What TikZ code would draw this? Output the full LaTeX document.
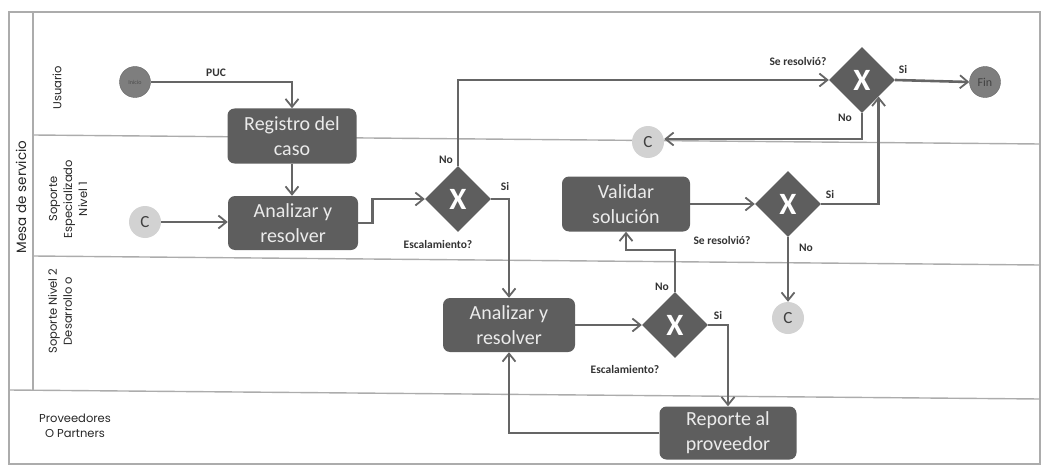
\documentclass[tikz,border=0pt]{standalone}
\usepackage{fontspec}
\setmainfont{Carlito}
\newfontfamily\lanefont{Poppins}
\usetikzlibrary{arrows.meta,shapes.geometric}
\definecolor{boxgray}{HTML}{5E5E5E}
\definecolor{linegray}{HTML}{656565}
\definecolor{lanegray}{HTML}{ACACAC}
\definecolor{evgray}{HTML}{7E7E7E}
\definecolor{cgray}{HTML}{D2D2D2}
\begin{document}
\begin{tikzpicture}[x=1pt,y=-1pt,
  lane/.style={draw=lanegray, line width=1.4pt},
  task/.style={rounded corners=7pt, fill=boxgray, text=white!92!black, align=center,
    font=\fontsize{20}{25}\selectfont, minimum width=129pt, minimum height=55pt, inner sep=2pt},
  gw/.style={diamond, aspect=1, fill=boxgray, text=white, inner sep=0pt,
    minimum width=66pt, minimum height=66pt, font=\fontsize{31}{31}\selectfont\bfseries},
  evc/.style={circle, fill=evgray, draw=evgray!80!black, line width=0.4pt, minimum size=31pt, inner sep=0pt},
  cc/.style={circle, fill=cgray, text=black!75, minimum size=32pt, inner sep=0pt,
    font=\fontsize{17}{17}\selectfont},
  arr/.style={draw=linegray, line width=2.6pt, -{Straight Barb[length=8pt,width=13pt,line width=1.8pt]}},
  lbl/.style={font=\fontsize{11.5}{12}\selectfont\bfseries, text=black!80, inner sep=1pt},
  lanelbl/.style={font=\lanefont\fontsize{11.5}{15}\selectfont, text=black!85, align=center, inner sep=0pt}
]
\useasboundingbox (0,0) rectangle (1043,468);
% frame and lanes
\draw[lane] (9,12) rectangle (1040,464);
\draw[lane] (33,12) -- (33,390);
\draw[lane] (33,135) -- (1040,144);
\draw[lane] (33,256) -- (1040,265);
\draw[lane] (9,390) -- (1040,399);
\node[lanelbl, rotate=90, font=\lanefont\fontsize{13.5}{14}\selectfont] (mesa) at (21,197) {Mesa de servicio};
\node[lanelbl, rotate=90] (lu) at (57,88) {Usuario};
\node[lanelbl, rotate=90] (l1) at (68,199) {Soporte\\Especializado\\Nivel 1};
\node[lanelbl, rotate=90] (l2) at (60,311) {Soporte Nivel 2\\Desarrollo o};
\node[lanelbl] (lp) at (75,426) {Proveedores\\O Partners};
% nodes
\node[evc, font=\fontsize{6}{6}\selectfont, text=black!70] (ini) at (135,82) {Inicio};
\node[task] (reg) at (292,136) {Registro del\\caso};
\node[task, minimum width=130pt, minimum height=54pt] (an1) at (293,223) {Analizar y\\resolver};
\node[cc] (c1) at (145,222) {C};
\node[gw] (g1) at (458,199) {X};
\node[gw] (g3) at (862,80) {X};
\node[evc, font=\fontsize{12}{12}\selectfont, text=black!75] (fin) at (985,82) {Fin};
\node[cc] (c2) at (648,142) {C};
\node[task, minimum width=128pt] (val) at (626,204) {Validar\\solución};
\node[gw] (g4) at (788,204) {X};
\node[cc] (c3) at (788,318) {C};
\node[task, minimum width=132pt, minimum height=54pt] (an2) at (509,325) {Analizar y\\resolver};
\node[gw] (g2) at (675,325) {X};
\node[task, minimum width=137pt, minimum height=53pt] (rep) at (728,433) {Reporte al\\proveedor};
% connectors
\draw[arr] (ini.east) -| (reg.north);
\draw[arr] (reg.south) -- (reg.south |- an1.north);
\draw[arr] (c1.east) -- (an1.west |- c1.east);
\draw[arr] (an1.east) -- ++(14,0) |- (g1.west);
\draw[arr] (g1.north) |- (g3.west);
\draw[arr] (g1.east) -| (an2.north);
\draw[arr] (g3.east) -- (fin.west);
\draw[arr] (g3.south) |- ([yshift=3pt]c2.east);
\draw[arr] (val.east) -- (g4.west);
\draw[arr] (g4.east) -| (g3.south east);
\draw[arr] (g4.south) -- (c3.north);
\draw[arr] (an2.east) -- (g2.west);
\draw[arr] (g2.north) -- ++(0,-42) -| (val.south);
\draw[arr] (g2.east) -| (rep.north);
\draw[arr] (rep.west) -| (an2.south);
% labels
\node[lbl] (puc) at (216,73) {PUC};
\node[lbl] (n1) at (446,160) {No};
\node[lbl] (s1) at (505,187) {Si};
\node[lbl] (e1) at (438,245) {Escalamiento?};
\node[lbl] (r3) at (798,62) {Se resolvió?};
\node[lbl] (s3) at (903,70) {Si};
\node[lbl] (n3) at (845,118) {No};
\node[lbl] (s4) at (830,195) {Si};
\node[lbl] (r4) at (722,241) {Se resolvió?};
\node[lbl] (n4) at (806,248) {No};
\node[lbl] (n2) at (662,287) {No};
\node[lbl] (s2) at (718,316) {Si};
\node[lbl] (e2) at (625,370) {Escalamiento?};
\end{tikzpicture}
\end{document}
